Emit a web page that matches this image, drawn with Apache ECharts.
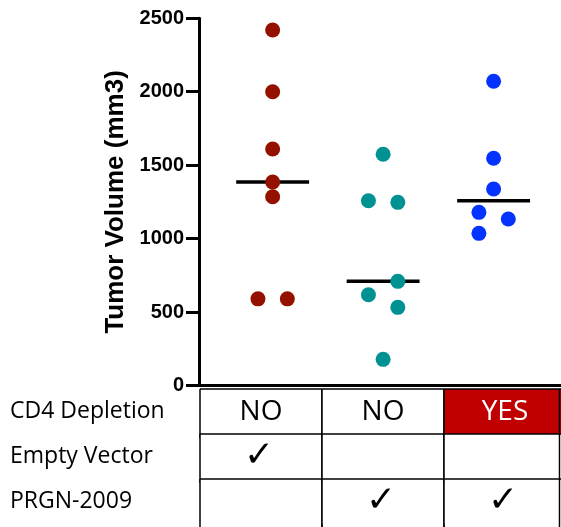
<!DOCTYPE html>
<html>
<head>
<meta charset="utf-8">
<script src="https://cdn.jsdelivr.net/npm/echarts@6/dist/echarts.min.js"></script>
<style>
html,body{margin:0;padding:0;background:#fff;}
#chart{width:561px;height:527px;}
</style>
</head>
<body>
<div id="chart"></div>
<script>
// ---- data ----
const groupNames = ['Empty Vector', 'PRGN-2009', 'PRGN-2009 + CD4 Depletion'];
const groupColors = ['#941100', '#009193', '#0433FF'];
const group1Values = [2420, 2000, 1610, 1385, 1285, 590, 590];
const group1Jitter = [0, 0, 0, 0, 0, -1, 1];
const group2Values = [1574, 1258, 1247, 709, 618, 532, 178];
const group2Jitter = [0, -1, 1, 1, -1, 1, 0];
const group3Values = [2071, 1547, 1338, 1179, 1134, 1036];
const group3Jitter = [0, 0, 0, -1, 1, -1];
const yMin = 0, yMax = 2500, yInterval = 500;
const yAxisTitle = 'Tumor Volume (mm3)';

const rowLabels = ['CD4 Depletion', 'Empty Vector', 'PRGN-2009'];
const cd4Row = ['NO', 'NO', 'YES'];
const emptyVectorRow = [true, false, false];
const prgnRow = [false, true, true];

// ---- build ----
const groups = [
  {values: group1Values, jitter: group1Jitter},
  {values: group2Values, jitter: group2Jitter},
  {values: group3Values, jitter: group3Jitter}
];
const JIT = 0.133;   // horizontal jitter step (x units)
const HALF = 0.33;   // half width of median bar
const W = 561;
function median(a) {
  const s = a.slice().sort((x, y) => x - y);
  const m = Math.floor(s.length / 2);
  return s.length % 2 ? s[m] : (s[m - 1] + s[m]) / 2;
}

const series = [];
groups.forEach((g, i) => {
  series.push({
    type: 'scatter',
    name: groupNames[i],
    xAxisIndex: 0, yAxisIndex: 0,
    symbolSize: 15,
    itemStyle: {color: groupColors[i], opacity: 1},
    z: 3,
    silent: true,
    data: g.values.map((v, k) => [i + 1 + g.jitter[k] * JIT, v])
  });
});
series.push({
  type: 'custom',
  xAxisIndex: 0, yAxisIndex: 0,
  z: 2, silent: true,
  data: groups.map((g, i) => [i + 1, median(g.values)]),
  renderItem: function (params, api) {
    const x = api.value(0), y = api.value(1);
    const p1 = api.coord([x - HALF, y]);
    const p2 = api.coord([x + HALF, y]);
    return {type: 'line', shape: {x1: p1[0], y1: p1[1], x2: p2[0], y2: p2[1]},
      style: {stroke: '#000', lineWidth: 3.5}};
  }
});

// table cells
const cellData = [];
for (let c = 0; c < 3; c++) {
  cellData.push([c, 0, cd4Row[c], cd4Row[c] === 'YES' ? 1 : 0]);
  cellData.push([c, 1, emptyVectorRow[c] ? '✓' : '', 0]);
  cellData.push([c, 2, prgnRow[c] ? '✓' : '', 0]);
}
series.push({
  type: 'custom',
  xAxisIndex: 1, yAxisIndex: 1,
  silent: true, z: 1,
  data: cellData,
  renderItem: function (params, api) {
    const c = api.value(0), r = api.value(1);
    const txt = cellData[params.dataIndex][2];
    const hi = cellData[params.dataIndex][3];
    const ctr = api.coord([c, r]);
    const sz = api.size([1, 1]);
    const x0 = ctr[0] - sz[0] / 2, y0 = ctr[1] - sz[1] / 2;
    const x1 = Math.min(x0 + sz[0], W - 1.5), y1 = y0 + sz[1] + 4;
    const isCheck = txt === '✓';
    const ls = {stroke: '#000', lineWidth: 1.5};
    return {
      type: 'group',
      children: [
        {type: 'rect', shape: {x: x0, y: y0, width: sz[0], height: sz[1]},
         style: {fill: hi ? '#C00000' : '#fff'}},
        {type: 'line', shape: {x1: x0, y1: y0, x2: x0 + sz[0], y2: y0}, style: ls},
        {type: 'line', shape: {x1: x0, y1: y0, x2: x0, y2: y1}, style: ls},
        {type: 'line', shape: {x1: x1, y1: y0, x2: x1, y2: y1}, style: ls},
        {type: 'text', x: ctr[0] + (isCheck ? -2 : 0), y: ctr[1] + (isCheck ? 0 : 1),
         style: {text: txt, fill: hi ? '#fff' : '#000',
           font: isCheck ? '36px "DejaVu Sans"' : '28px "Open Sans"',
           align: 'center', verticalAlign: 'middle'}}
      ]
    };
  }
});

const chart = echarts.init(document.getElementById('chart'), null, {renderer: 'canvas'});
chart.setOption({
  animation: false,
  backgroundColor: '#fff',
  grid: [
    {left: 199, right: 0, top: 18.3, bottom: 141.5, containLabel: false},
    {left: 200, right: 0, top: 389, height: 135, containLabel: false}
  ],
  xAxis: [
    {type: 'value', gridIndex: 0, min: 1 / 3, max: 3.61,
     axisLine: {show: true, onZero: false, lineStyle: {color: '#000', width: 3}},
     axisTick: {show: false}, axisLabel: {show: false}, splitLine: {show: false}},
    // table columns are 122px wide; the last one runs past the right edge
    {type: 'value', gridIndex: 1, min: -0.5, max: -0.5 + 361 / 122, position: 'top',
     axisLine: {show: false}, axisTick: {show: false}, axisLabel: {show: false}, splitLine: {show: false}}
  ],
  yAxis: [
    {type: 'value', gridIndex: 0, min: yMin, max: yMax, interval: yInterval,
     name: yAxisTitle, nameLocation: 'middle', nameGap: 66, nameRotate: 90,
     nameTextStyle: {fontFamily: 'Liberation Sans', fontWeight: 'bold', fontSize: 26, color: '#000'},
     axisLine: {show: true, lineStyle: {color: '#000', width: 3}},
     axisTick: {show: true, inside: false, length: 13, lineStyle: {color: '#000', width: 3}},
     axisLabel: {fontFamily: 'Liberation Sans', fontWeight: 'bold', fontSize: 20, color: '#000', margin: 15,
       formatter: function (v) { return String(v); }},
     splitLine: {show: false}},
    {type: 'category', gridIndex: 1, data: rowLabels, inverse: true,
     axisLine: {show: false}, axisTick: {show: false},
     axisLabel: {align: 'left', margin: 190, fontFamily: 'Open Sans', fontSize: 23, color: '#000'}}
  ],
  series: series
});
</script>
</body>
</html>
